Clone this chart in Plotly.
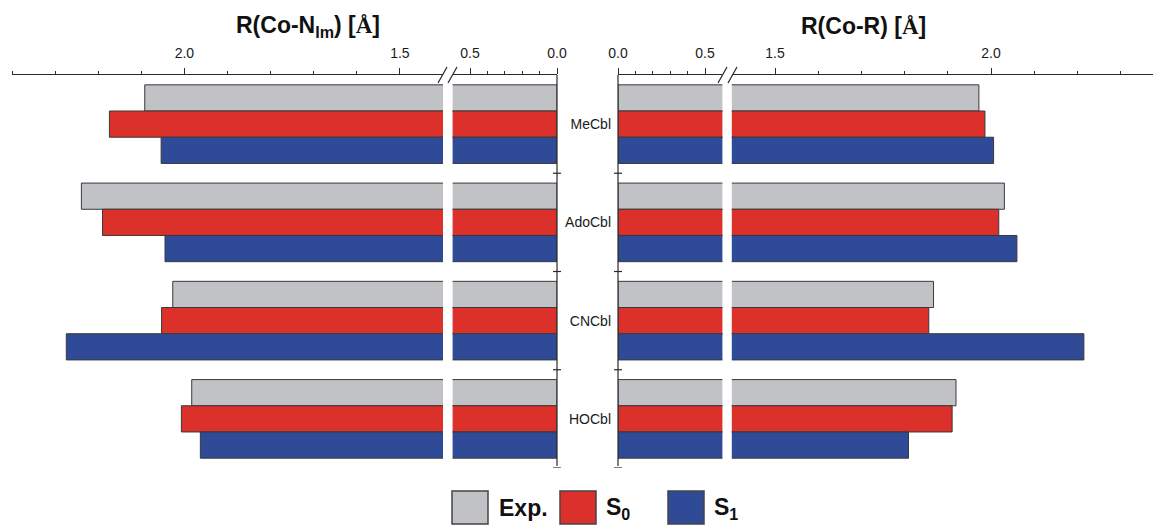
import plotly.graph_objects as go

W, H = 1153, 525

categories = ["MeCbl", "AdoCbl", "CNCbl", "HOCbl"]
series_names = ["Exp.", "S<sub>0</sub>", "S<sub>1</sub>"]

# Co–N(Im) bond lengths [Å]
co_n_exp = [2.092, 2.239, 2.027, 1.983]
co_n_s0 = [2.174, 2.190, 2.053, 2.007]
co_n_s1 = [2.054, 2.045, 2.274, 1.963]

# Co–R bond lengths [Å]
co_r_exp = [1.972, 2.031, 1.867, 1.919]
co_r_s0 = [1.986, 2.018, 1.856, 1.910]
co_r_s1 = [2.006, 2.060, 2.215, 1.809]

colors = ["#c1c2c6", "#dc302b", "#2f4a97"]
edge = "#3a3a3a"
axis_col = "#2a2a2a"
FONT = "Liberation Sans, Arial, sans-serif"

left_vals = [co_n_exp, co_n_s0, co_n_s1]
right_vals = [co_r_exp, co_r_s0, co_r_s1]
ypos = list(range(len(categories)))


def px(x):
    return x / W


def py(y):
    return 1 - y / H


# broken-axis layout (pixel extents of each segment)
Y_TOP, Y_BOT = 75, 468
LB = (12, 443)       # left, long segment   2.4 -> 1.4
LS = (452.6, 557)    # left, short segment  0.6 -> 0.0
RS = (618, 722.4)    # right, short segment 0.0 -> 0.6
RB = (731.8, 1153)   # right, long segment  1.4 -> 2.375

fig = go.Figure()
for vals_side, axes in ((left_vals, ("x", "x2")), (right_vals, ("x3", "x4"))):
    for ax in axes:
        for name, vals, col in zip(series_names, vals_side, colors):
            fig.add_trace(go.Bar(
                y=ypos, x=vals, orientation="h", name=name,
                xaxis=ax, yaxis="y", showlegend=False,
                marker=dict(color=col, line=dict(color=edge, width=1)),
                hoverinfo="x+name",
            ))


def xaxis(domain, rng, major, minor):
    return dict(
        domain=[px(domain[0]), px(domain[1])], range=rng, anchor="y", side="top",
        automargin=False,
        showline=True, linecolor=axis_col, linewidth=1.2, showgrid=False, zeroline=False,
        ticks="outside", ticklen=6, tickwidth=1.2, tickcolor=axis_col,
        tickvals=major, tickformat=".1f", ticklabelstandoff=4,
        tickfont=dict(family=FONT, size=14, color="#1a1a1a"),
        minor=dict(tickvals=minor, ticks="outside", ticklen=3, tickwidth=1, tickcolor=axis_col),
        fixedrange=True,
    )


shapes = []
# vertical centre axes with crossing ticks at category boundaries
for xc in (LS[1], RS[0]):
    shapes.append(dict(type="line", xref="paper", yref="paper",
                       x0=px(xc), x1=px(xc), y0=py(Y_TOP), y1=py(466),
                       line=dict(color=axis_col, width=1.2)))
    for b in (0.5, 1.5, 2.5, 3.5):
        shapes.append(dict(type="line", xref="paper", yref="y",
                           x0=px(xc - 4), x1=px(xc + 4), y0=b, y1=b,
                           line=dict(color=axis_col, width=1.2)))

# axis-break marks
for (xa, xb) in ((438, 448), (718, 728)):
    for x0 in (xa, xb):
        shapes.append(dict(type="line", xref="paper", yref="paper",
                           x0=px(x0), x1=px(x0 + 9), y0=py(83), y1=py(67),
                           line=dict(color=axis_col, width=1.2)))

# legend keys
keys = [(452, 497, "Exp."), (560, 604, "S<sub>0</sub>"), (668, 712, "S<sub>1</sub>")]
annotations = []
for (kx, tx, label), col in zip(keys, colors):
    shapes.append(dict(type="rect", xref="paper", yref="paper",
                       x0=px(kx), x1=px(kx + 36), y0=py(524), y1=py(491),
                       fillcolor=col, line=dict(color="#444444", width=1.5)))
    annotations.append(dict(xref="paper", yref="paper", x=px(tx), y=py(508),
                            xanchor="left", yanchor="middle", showarrow=False,
                            text=f"<b>{label}</b>",
                            font=dict(family=FONT, size=23, color="#111111")))

# panel titles
annotations.append(dict(xref="paper", yref="paper", x=px(308), y=py(26),
                        xanchor="center", yanchor="middle", showarrow=False,
                        text="<b>R(Co-N<sub>Im</sub>) [<span style='font-family:Liberation Serif'>Å</span>]</b>",
                        font=dict(family=FONT, size=23, color="#111111")))
annotations.append(dict(xref="paper", yref="paper", x=px(863), y=py(26),
                        xanchor="center", yanchor="middle", showarrow=False,
                        text="<b>R(Co-R) [<span style='font-family:Liberation Serif'>Å</span>]</b>",
                        font=dict(family=FONT, size=23, color="#111111")))

fig.update_layout(
    width=W, height=H,
    margin=dict(l=0, r=0, t=0, b=0, pad=0, autoexpand=False),
    paper_bgcolor="white", plot_bgcolor="white",
    barmode="group", bargap=0.2, bargroupgap=0,
    showlegend=False,
    xaxis=xaxis(LB, [2.4, 1.4], [1.5, 2.0], [1.6, 1.7, 1.8, 1.9, 2.1, 2.2, 2.3, 2.4]),
    xaxis2=xaxis(LS, [0.6, 0.0], [0.0, 0.5], [0.1, 0.2, 0.3, 0.4]),
    xaxis3=xaxis(RS, [0.0, 0.6], [0.0, 0.5], [0.1, 0.2, 0.3, 0.4]),
    xaxis4=xaxis(RB, [1.4, 1.4 + (RB[1] - RB[0]) / 432], [1.5, 2.0], [1.6, 1.7, 1.8, 1.9, 2.1, 2.2, 2.3]),
    yaxis=dict(
        domain=[py(Y_BOT), py(Y_TOP)], range=[3.5, -0.5], anchor="x3", side="left",
        automargin=False,
        tickvals=ypos, ticktext=categories, ticks="", showline=False,
        showgrid=False, zeroline=False, ticklabelstandoff=6,
        tickfont=dict(family=FONT, size=14, color="#1a1a1a"), fixedrange=True,
    ),
    shapes=shapes,
    annotations=annotations,
)

fig.write_html("out.html")
